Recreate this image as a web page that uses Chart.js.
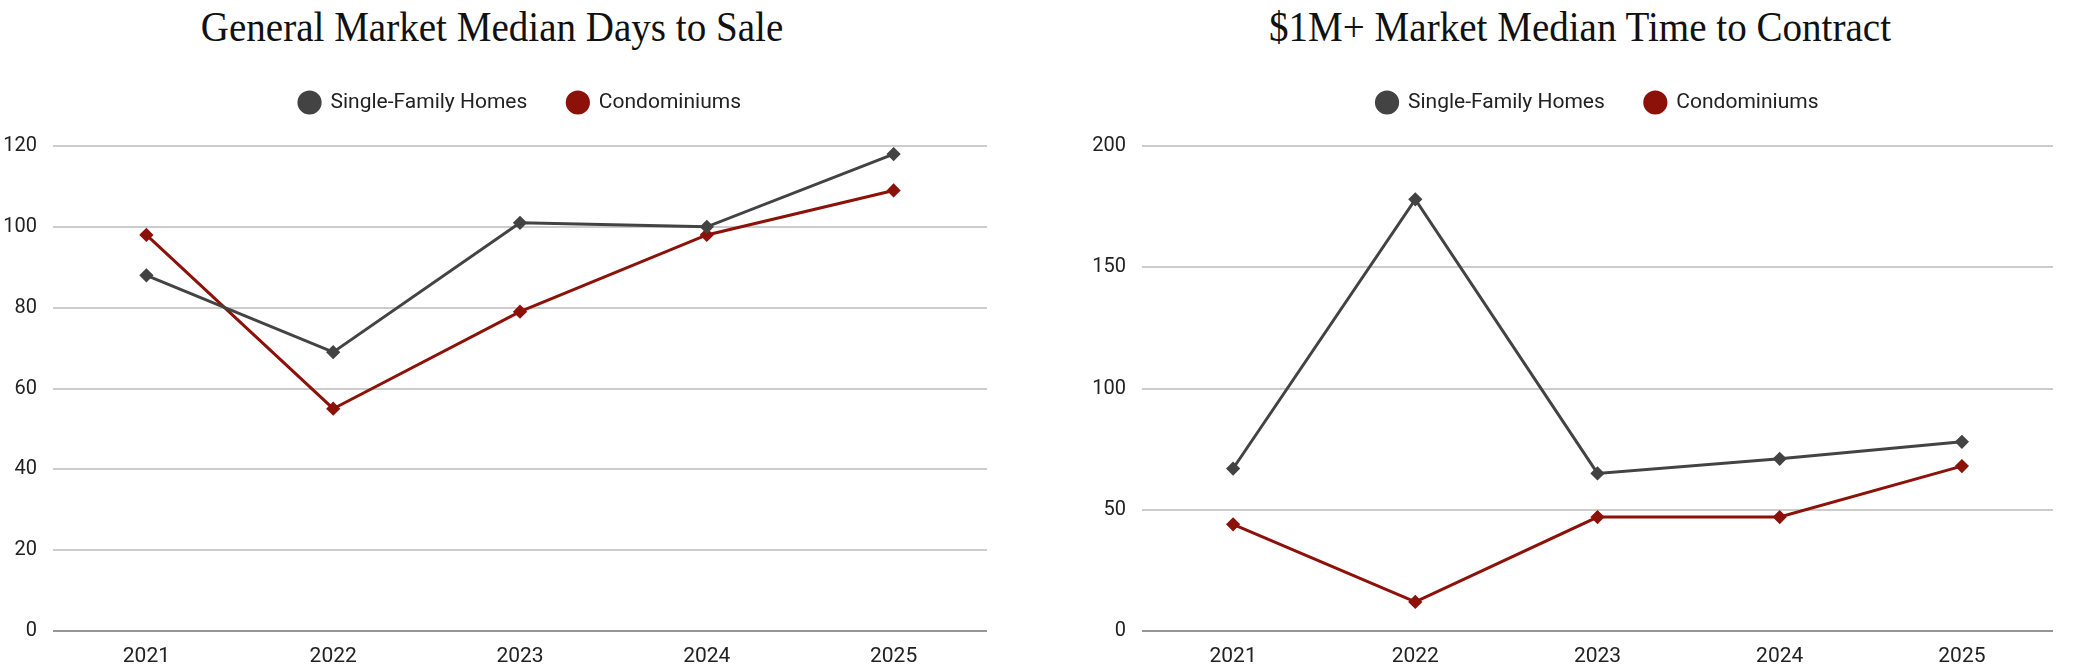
<!DOCTYPE html>
<html>
<head>
<meta charset="utf-8">
<script src="https://cdn.jsdelivr.net/npm/chart.js@4"></script>
<style>
	body { margin: 0; background: #fff; width: 2076px; height: 665px; position: relative; overflow: hidden; }
	.box { position: absolute; top: 0; }
	.ttl {
		position: absolute; top: 6px; white-space: nowrap; line-height: 42px;
		transform: translateX(-50%) scaleX(0.93);
		font-family: 'Liberation Serif', serif; font-size: 42px; color: #111;
	}
</style>
</head>
<body>
<div class="ttl" style="left:492px">General Market Median Days to Sale</div>
<div class="ttl" style="left:1580px">$1M+ Market Median Time to Contract</div>
<div class="box" style="left:0"><canvas id="daysChart" width="1000" height="665"></canvas></div>
<div class="box" style="left:1040px"><canvas id="contractChart" width="1036" height="665"></canvas></div>
<script>
const years = ['2021', '2022', '2023', '2024', '2025'];
const seriesNames = ['Single-Family Homes', 'Condominiums'];

// General market, median days to sale
const daysSingleFamily = [88, 69, 101, 100, 118];
const daysCondo = [98, 55, 79, 98, 109];

// $1M+ market, median time to contract
const contractSingleFamily = [67, 178, 65, 71, 78];
const contractCondo = [44, 12, 47, 47, 68];

const greyLine = '#434343';
const redLine = '#8c1209';

Chart.defaults.font.family = 'Roboto';
Chart.defaults.color = '#222';

// push the plot a bit further below the legend
const legendGap = {
	id: 'legendGap',
	beforeInit(chart) {
		const fit = chart.legend.fit;
		chart.legend.fit = function () {
			fit.bind(chart.legend)();
			this.height += 23;
		};
	}
};

const makeDataset = (label, values, color) => ({
	label: label,
	data: values,
	borderColor: color,
	backgroundColor: color,
	borderWidth: 3,
	pointStyle: 'rectRot',
	pointRadius: 5,
	pointHoverRadius: 6,
	tension: 0
});

const createLineChart = (id, sfh, condo, maxVal, step, axisWidth, padRight) => {

	const ctx = document.getElementById(id).getContext('2d');

	return new Chart(ctx, {
		type: 'line',
		data: {
			labels: years,
			datasets: [
				makeDataset(seriesNames[0], sfh, greyLine),
				makeDataset(seriesNames[1], condo, redLine)
			]
		},
		options: {
			responsive: false,
			animation: false,
			layout: { padding: { top: 52, right: padRight, bottom: 0, left: 0 } },
			plugins: {
				legend: {
					fullSize: false,
					labels: {
						usePointStyle: true,
						pointStyle: 'circle',
						boxHeight: 15,
						padding: 40,
						font: { size: 21 },
						color: '#222'
					}
				},
				tooltip: { enabled: false }
			},
			scales: {
				x: {
					offset: true,
					grid: { display: false },
					border: { display: false },
					ticks: { padding: 5, font: { size: 21 } },
					afterFit: (scale) => { scale.height = 34; }
				},
				y: {
					min: 0,
					max: maxVal,
					ticks: { stepSize: step, padding: 16, font: { size: 20 } },
					border: { display: false },
					grid: {
						drawTicks: false,
						lineWidth: 2,
						color: (c) => c.tick && c.tick.value === 0 ? '#959595' : '#cccccc'
					},
					afterFit: (scale) => { scale.width = axisWidth; }
				}
			}
		},
		plugins: [legendGap]
	});
}

createLineChart('daysChart', daysSingleFamily, daysCondo, 120, 20, 53, 13);
createLineChart('contractChart', contractSingleFamily, contractCondo, 200, 50, 102, 23);
</script>
</body>
</html>
